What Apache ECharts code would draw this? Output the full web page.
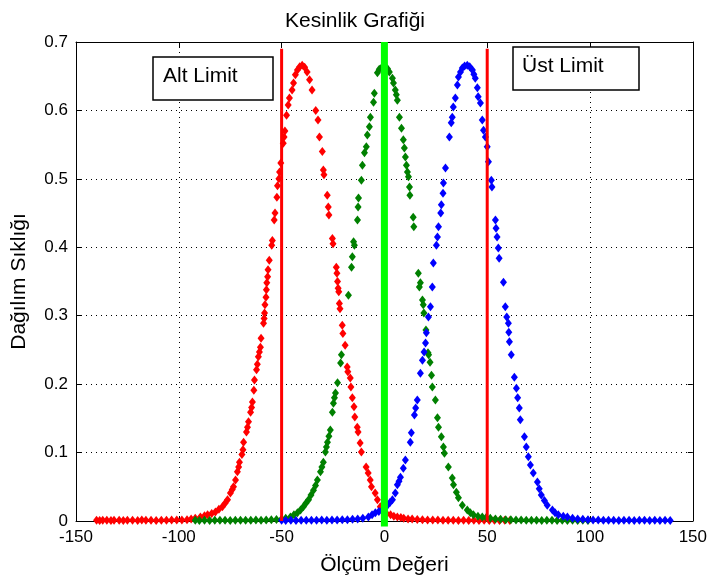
<!DOCTYPE html>
<html>
<head>
<meta charset="utf-8">
<script src="https://cdn.jsdelivr.net/npm/echarts@6/dist/echarts.min.js"></script>
<style>
  html, body { margin: 0; padding: 0; background: #fff; }
  #chart { width: 710px; height: 583px; }
</style>
</head>
<body>
<div id="chart"></div>
<script>
// olcum degerleri, resimden okunan noktalar [x, y]
var redPts = [
  [-140,0.001],[-138.5,0.0008],[-137,0.0012],[-135,0.001],[-133,0.0009],[-131.5,0.0011],[-129,0.001],[-127,0.0008],
  [-125,0.0012],[-122.5,0.001],[-120,0.0009],[-118,0.0013],[-116,0.001],[-113.5,0.0011],[-111,0.0009],[-108.5,0.0012],
  [-106,0.001],[-103.5,0.0013],[-101,0.0014],[-98.5,0.0016],[-96,0.0019],[-94,0.0028],[-92,0.004],[-89.5,0.006],
  [-87.5,0.0075],[-86,0.009],[-84,0.011],[-82.2,0.013],[-80.5,0.017],[-78.8,0.021],[-77.5,0.026],[-76.3,0.031],
  [-74.9,0.041],[-74,0.046],[-73.4,0.05],[-72.4,0.06],[-71.5,0.072],[-70.9,0.079],[-70.5,0.086],[-69.3,0.097],
  [-68.8,0.104],[-68.5,0.115],[-67.1,0.13],[-66.6,0.137],[-66.1,0.145],[-65.1,0.159],[-64.6,0.166],[-64.2,0.174],
  [-63.5,0.191],[-63.2,0.206],[-62.2,0.221],[-61.8,0.229],[-61.3,0.24],[-60.8,0.247],[-60.3,0.254],[-60,0.267],
  [-58.8,0.289],[-58.5,0.296],[-58.3,0.304],[-58.1,0.316],[-57.6,0.327],[-57.4,0.338],[-57.2,0.348],[-56.8,0.357],
  [-56.6,0.367],[-56,0.381],[-54.8,0.403],[-54.5,0.41],[-53.6,0.44],[-53.2,0.45],[-52.3,0.473],[-52,0.49],
  [-51.3,0.5],[-51,0.51],[-50.4,0.523],[-49.2,0.552],[-48.8,0.561],[-48.4,0.57],[-47.6,0.593],[-46.8,0.608],
  [-46.2,0.618],[-44.9,0.63],[-44.2,0.64],[-43.3,0.652],[-42.3,0.659],[-41.2,0.664],[-40,0.666],[-38.8,0.663],
  [-37.6,0.656],[-36.4,0.645],[-35.2,0.63],[-33.4,0.6],[-32.3,0.586],[-31.6,0.561],[-30.2,0.54],[-29.7,0.513],
  [-29.4,0.506],[-27.8,0.476],[-27.3,0.459],[-27,0.447],[-25.3,0.413],[-25,0.405],[-23.4,0.371],[-23.1,0.362],
  [-22.8,0.35],[-22.5,0.34],[-22.2,0.335],[-21.9,0.318],[-21.6,0.31],[-20.5,0.286],[-20.2,0.274],[-19.1,0.257],
  [-18.1,0.225],[-17.8,0.218],[-16.6,0.209],[-16.3,0.196],[-15.6,0.18],[-14.8,0.167],[-14.4,0.152],[-13.2,0.137],
  [-12.8,0.13],[-11.8,0.114],[-11.2,0.101],[-8.9,0.079],[-7.9,0.07],[-6.9,0.06],[-6.3,0.05],[-4.5,0.041],
  [-3.4,0.031],[-2,0.021],[-0.6,0.013],[1,0.011],[3,0.009],[4.6,0.007],[6.3,0.006],[8,0.005],
  [9.4,0.004],[11.5,0.003],[13.5,0.0028],[16,0.0022],[18.5,0.002],[21,0.0016],[23.5,0.0015],[26,0.0013],
  [28.5,0.0012],[31,0.001],[33.5,0.0011],[36,0.0009],[38.5,0.001],[41,0.0008],[43.5,0.001],[46,0.0009],
  [48.5,0.0011],[51,0.0008],[53.5,0.001],[56,0.0009],[58.5,0.001],[61,0.0008]
];
var greenPts = [
  [-92,0.001],[-90,0.0008],[-87.5,0.0011],[-85,0.0009],[-82.5,0.001],[-80,0.0012],[-77.5,0.001],[-75,0.0009],
  [-72.5,0.0011],[-70,0.001],[-67.5,0.0012],[-65,0.0011],[-62.5,0.0013],[-60,0.0012],[-57.5,0.0015],[-55,0.0018],
  [-52.5,0.0022],[-50,0.003],[-48,0.004],[-45.7,0.006],[-44,0.009],[-42.3,0.012],[-40.8,0.016],[-39.4,0.021],
  [-38.2,0.026],[-36.9,0.031],[-35.7,0.038],[-34.5,0.045],[-33.5,0.052],[-32.6,0.06],[-31.1,0.072],[-30.4,0.079],
  [-29.7,0.086],[-28.7,0.101],[-28.2,0.108],[-27.7,0.115],[-27,0.124],[-26.3,0.133],[-25.3,0.159],[-24.8,0.172],
  [-24.3,0.18],[-23.8,0.187],[-22.8,0.202],[-21.3,0.231],[-20.9,0.243],[-17.5,0.33],[-16,0.371],[-15.6,0.386],
  [-15,0.408],[-14.6,0.403],[-13.1,0.44],[-12.8,0.459],[-12.6,0.472],[-11.2,0.498],[-10.7,0.52],[-9.7,0.538],
  [-8.8,0.547],[-8.3,0.564],[-7.3,0.576],[-6.8,0.59],[-5.3,0.612],[-4.9,0.625],[-3.4,0.655],[-2.5,0.66],
  [-1,0.664],[0.5,0.664],[1.5,0.661],[2.4,0.656],[3.9,0.647],[4.4,0.64],[5.3,0.63],[5.8,0.623],
  [6.3,0.615],[7.3,0.59],[8.3,0.574],[9.2,0.557],[9.7,0.545],[10.2,0.532],[10.7,0.52],[11.2,0.51],
  [11.7,0.503],[12.2,0.488],[12.4,0.476],[14,0.444],[14.3,0.43],[16.5,0.362],[17,0.342],[17.5,0.348],
  [18.5,0.323],[18.9,0.316],[19.2,0.304],[20.2,0.279],[21.2,0.246],[21.5,0.243],[22.2,0.232],[22.9,0.213],
  [23.3,0.196],[24.8,0.177],[25.8,0.151],[26.3,0.137],[27.7,0.123],[28.7,0.108],[29.2,0.099],[31.1,0.079],
  [33,0.063],[33.6,0.053],[35,0.042],[36,0.034],[37.9,0.023],[40.3,0.016],[41.8,0.012],[43.3,0.009],
  [45.5,0.007],[47.6,0.006],[49.5,0.005],[51.5,0.004],[54,0.003],[56.5,0.0025],[59,0.002],[61.5,0.0017],
  [64,0.0015],[66.5,0.0013],[69,0.0012],[71.5,0.001],[74,0.0011],[76.5,0.0009],[79,0.001],[81.5,0.0011],
  [84,0.0009],[86.5,0.001],[89,0.0008],[91.5,0.001],[94,0.0009],[96.5,0.001],[99,0.0008]
];
var bluePts = [
  [-50,0.001],[-48,0.0008],[-45.5,0.001],[-43,0.0009],[-40.5,0.0011],[-38,0.001],[-35.5,0.0012],[-33,0.0011],
  [-30.5,0.0013],[-28,0.0012],[-25.5,0.0014],[-23,0.0015],[-20.5,0.0018],[-18,0.002],[-15.5,0.0025],[-13,0.003],
  [-10.5,0.004],[-7.8,0.006],[-6,0.009],[-4.4,0.012],[-2.7,0.014],[-1,0.016],[0.3,0.02],[1.5,0.023],
  [2.7,0.027],[3.9,0.031],[5.3,0.041],[6.3,0.053],[7.1,0.058],[7.8,0.064],[9.2,0.077],[10.2,0.089],
  [12.6,0.115],[13.1,0.129],[14.6,0.155],[15.2,0.165],[16,0.177],[17.5,0.216],[18.5,0.235],[19.3,0.247],
  [20,0.26],[20.4,0.275],[21.4,0.298],[22.4,0.313],[23.3,0.342],[23.8,0.377],[25.3,0.403],[25.8,0.415],
  [26.3,0.43],[27.4,0.45],[27.7,0.462],[28.5,0.479],[28.7,0.494],[29.7,0.516],[31.6,0.561],[32.5,0.582],
  [33,0.59],[33.5,0.605],[34.5,0.618],[35.5,0.637],[36,0.649],[37,0.656],[37.9,0.662],[39,0.665],
  [40.3,0.666],[41.5,0.664],[42.8,0.659],[43.5,0.653],[44.2,0.647],[45.2,0.633],[45.6,0.62],[46.7,0.611],
  [47.6,0.586],[48.2,0.571],[49.1,0.561],[50,0.547],[50.6,0.525],[52,0.498],[52.3,0.488],[54,0.44],
  [54.3,0.428],[54.8,0.415],[55.4,0.399],[55.8,0.384],[57.9,0.349],[58.8,0.313],[59.5,0.298],[60.3,0.289],
  [60.5,0.276],[60.8,0.262],[61.7,0.243],[63.2,0.21],[64.2,0.194],[64.8,0.18],[65.6,0.165],[66.1,0.148],
  [68.1,0.123],[69,0.108],[70,0.094],[71,0.082],[72.4,0.07],[74.4,0.057],[75.3,0.047],[76.3,0.038],
  [77.8,0.03],[79.2,0.023],[81.7,0.016],[83,0.012],[84.6,0.009],[87,0.007],[89,0.006],[91.5,0.004],
  [94,0.003],[96.5,0.0025],[99,0.002],[101.5,0.0016],[104,0.0014],[106.5,0.0012],[109,0.001],[111.5,0.0011],
  [114,0.0009],[116.5,0.001],[119,0.0012],[121.5,0.0009],[124,0.001],[126.5,0.0011],[129,0.0009],[131.5,0.001],
  [134,0.0008],[136.5,0.001],[139,0.0009]
];
var altLimit = -50;
var ustLimit = 50;
var limitTop = 0.69;
var merkez = 0;

var font = 'Liberation Sans';
var chart = echarts.init(document.getElementById('chart'));

function scatter(name, pts, color) {
  return {
    name: name,
    type: 'scatter',
    data: pts,
    symbol: 'diamond',
    symbolSize: [7, 9],
    itemStyle: { color: color, opacity: 1 },
    z: 2
  };
}
function vline(x, y0, y1, color, w) {
  return {
    type: 'line',
    data: [[x, y0], [x, y1]],
    showSymbol: false,
    symbol: 'none',
    clip: false,
    lineStyle: { color: color, width: w },
    z: 3
  };
}

var axisCommon = {
  axisLine: { show: true, onZero: false, lineStyle: { color: '#000', width: 1 } },
  axisTick: { show: true, inside: true, length: 5, lineStyle: { color: '#000' } }
};

chart.setOption({
  animation: false,
  backgroundColor: '#ffffff',
  title: {
    text: 'Kesinlik Grafiği',
    left: 'center',
    top: 6,
    textStyle: { fontFamily: font, fontSize: 21, fontWeight: 'normal', color: '#000' }
  },
  grid: { left: 76, right: 17, top: 42, bottom: 62 },
  xAxis: [
    Object.assign({
      type: 'value', min: -150, max: 150, interval: 50, position: 'bottom',
      name: 'Ölçüm Değeri', nameLocation: 'middle', nameGap: 34,
      nameTextStyle: { fontFamily: font, fontSize: 21, color: '#000' },
      axisLabel: { fontFamily: font, fontSize: 17, color: '#000', margin: 8 },
      splitLine: { show: true, lineStyle: { color: '#000', type: [1, 4], width: 1 } }
    }, axisCommon),
    Object.assign({
      type: 'value', min: -150, max: 150, interval: 50, position: 'top',
      axisLabel: { show: false }, splitLine: { show: false }
    }, axisCommon)
  ],
  yAxis: [
    Object.assign({
      type: 'value', min: 0, max: 0.7, interval: 0.1, position: 'left',
      name: 'Dağılım Sıklığı', nameLocation: 'middle', nameGap: 46,
      nameTextStyle: { fontFamily: font, fontSize: 21, color: '#000' },
      axisLabel: { fontFamily: font, fontSize: 17, color: '#000', margin: 8,
        formatter: function (v) { return +v.toFixed(1) + ''; } },
      splitLine: { show: true, lineStyle: { color: '#000', type: [1, 4], width: 1 } }
    }, axisCommon),
    Object.assign({
      type: 'value', min: 0, max: 0.7, interval: 0.1, position: 'right',
      axisLabel: { show: false }, splitLine: { show: false }
    }, axisCommon)
  ],
  series: [
    scatter('Alt', redPts, '#ff0000'),
    scatter('Orta', greenPts, '#008000'),
    scatter('Üst', bluePts, '#0000ff'),
    vline(altLimit, 0, limitTop, '#ff0000', 3),
    vline(ustLimit, 0, limitTop, '#ff0000', 3),
    vline(merkez, -0.008, 0.7, '#00ff00', 7)
  ],
  graphic: [
    { type: 'rect', shape: { x: 153, y: 57, width: 120, height: 43 },
      style: { fill: '#fff', stroke: '#000', lineWidth: 1.5 }, z: 10 },
    { type: 'text', left: 163, top: 66,
      style: { text: 'Alt Limit', font: '21px "Liberation Sans"', fill: '#000' }, z: 11 },
    { type: 'rect', shape: { x: 513, y: 47, width: 126, height: 43 },
      style: { fill: '#fff', stroke: '#000', lineWidth: 1.5 }, z: 10 },
    { type: 'text', left: 522, top: 56,
      style: { text: 'Üst Limit', font: '21px "Liberation Sans"', fill: '#000' }, z: 11 }
  ]
});
</script>
</body>
</html>
